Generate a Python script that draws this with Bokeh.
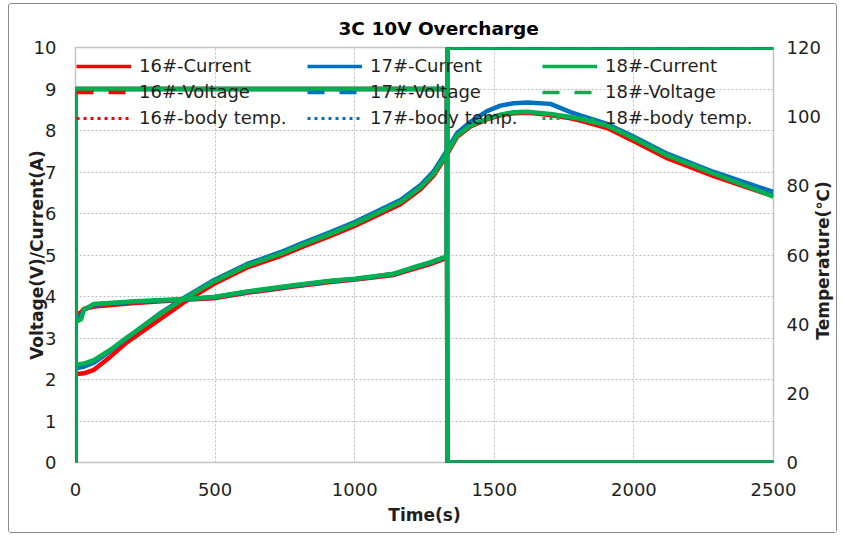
from math import pi

from bokeh.embed import file_html
from bokeh.models import FixedTicker, Label, Legend, LegendItem, LinearAxis, Range1d
from bokeh.plotting import figure
from bokeh.resources import INLINE

# ---- data -------------------------------------------------------------
cells = ["16#", "17#", "18#"]
colors = ["#FF0000", "#0070C0", "#00B050"]

# charge current (A): 3C step at t=0, drops to zero when the cells open
t_current = [0, 1, 1330, 1332, 2500]
current_16 = [0, 9, 9, 0, 0]
current_17 = [0, 9, 9, 0, 0]
current_18 = [0, 9, 9, 0, 0]

# cell voltage (V); jumps to the 10 V charger limit after cut-off
t_voltage = [3, 20, 30, 66, 200, 388, 495, 615, 782, 913, 1003, 1140, 1200, 1270, 1330, 1332, 2500]
voltage_16 = [3.55, 3.62, 3.70, 3.76, 3.84, 3.92, 3.96, 4.09, 4.24, 4.35, 4.41, 4.52, 4.64, 4.78, 4.93, 10, 10]
voltage_17 = [3.45, 3.55, 3.68, 3.80, 3.87, 3.93, 3.98, 4.11, 4.26, 4.37, 4.42, 4.54, 4.67, 4.81, 4.96, 10, 10]
voltage_18 = [3.40, 3.45, 3.68, 3.82, 3.88, 3.94, 3.99, 4.12, 4.27, 4.38, 4.43, 4.55, 4.68, 4.82, 4.97, 10, 10]

# body temperature (°C)
t_temp = [5, 30, 66, 125, 185, 304, 388, 495, 615, 734, 806, 913, 1000, 1164, 1236, 1283, 1325,
          1367, 1415, 1474, 1522, 1570, 1620, 1701, 1773, 1808, 1904, 2002, 2119, 2286, 2500]
temp_16 = [25.6, 25.8, 26.8, 30.6, 34.8, 41.5, 46.3, 51.6, 56.4, 59.7, 62.1, 65.5, 68.4, 74.7, 79.0, 83.0, 88.3,
           94.2, 97.2, 99.2, 100.4, 101.0, 101.1, 100.5, 99.5, 98.9, 96.7, 92.8, 88.0, 82.8, 77.0]
temp_17 = [27.3, 27.7, 28.9, 32.3, 36.0, 43.2, 47.6, 52.7, 57.4, 60.8, 63.2, 66.6, 69.5, 75.9, 80.2, 84.2, 89.5,
           95.3, 98.5, 101.6, 103.2, 103.9, 104.1, 103.7, 101.3, 100.4, 97.9, 94.1, 89.3, 84.0, 78.2]
temp_18 = [28.3, 28.6, 29.6, 32.6, 36.2, 43.0, 47.3, 52.3, 57.0, 60.3, 62.7, 66.1, 69.0, 75.3, 79.6, 83.5, 88.8,
           94.6, 97.4, 99.4, 100.6, 101.3, 101.4, 100.8, 99.9, 99.4, 97.4, 93.6, 88.8, 83.5, 76.9]

x_ticks = [0, 500, 1000, 1500, 2000, 2500]
y_ticks = list(range(0, 11))
temp_ticks = list(range(0, 121, 20))

currents = [current_16, current_17, current_18]
voltages = [voltage_16, voltage_17, voltage_18]
temps = [temp_16, temp_17, temp_18]

FONT = "DejaVu Sans"
TEXT = "#1f1f1f"

# ---- figure -----------------------------------------------------------
p = figure(
    frame_width=698, frame_height=415,
    x_range=Range1d(0, 2500), y_range=Range1d(0, 10),
    min_border_left=66, min_border_right=63, min_border_top=43, min_border_bottom=70,
    output_backend="svg", toolbar_location=None,
    title="3C 10V Overcharge",
    margin=(3, 0, 0, 8),
    styles={"border": "1px solid #8c8c8c", "border-radius": "3px"},
)
p.extra_y_ranges = {"temp": Range1d(0, 120)}

p.title.align = "left"
p.title.offset = 263
p.title.text_font = FONT
p.title.text_font_size = "18.5px"
p.title.text_font_style = "bold"
p.title.text_color = "#000000"
p.title.standoff = 18

p.outline_line_color = "#c4c4c4"
p.outline_line_width = 1.5
p.background_fill_color = "white"
p.border_fill_color = "white"

p.xgrid.ticker = FixedTicker(ticks=[500, 1000, 1500, 2000])
p.ygrid.ticker = FixedTicker(ticks=list(range(1, 10)))
for g in (p.xgrid, p.ygrid):
    g.grid_line_color = "#bdbdbd"
    g.grid_line_dash = "2 2"
    g.grid_line_width = 1

temp_axis = LinearAxis(y_range_name="temp")
p.add_layout(temp_axis, "right")

p.xaxis.ticker = FixedTicker(ticks=x_ticks)
p.yaxis[0].ticker = FixedTicker(ticks=y_ticks)
temp_axis.ticker = FixedTicker(ticks=temp_ticks)

p.xaxis.axis_label = "Time(s)"
p.yaxis[0].axis_label = "Voltage(V)/Current(A)"

for ax in (p.xaxis[0], p.yaxis[0], temp_axis):
    ax.axis_line_color = None
    ax.major_tick_line_color = None
    ax.minor_tick_line_color = None
    ax.major_label_text_font = FONT
    ax.major_label_text_font_size = "18px"
    ax.major_label_text_color = TEXT
    ax.axis_label_text_font = FONT
    ax.axis_label_text_font_size = "17px"
    ax.axis_label_text_font_style = "bold"
    ax.axis_label_text_color = TEXT

p.xaxis.major_label_standoff = 14
p.yaxis[0].major_label_standoff = 13
temp_axis.major_label_standoff = 7
p.xaxis.axis_label_standoff = 6
p.yaxis[0].axis_label_standoff = -16

# ---- series -----------------------------------------------------------
# styled copies of each series first (they give the legend its swatches and
# sit fully underneath the solid traces drawn afterwards)
swatches = {}
for cell, color, cur, volt, temp in zip(cells, colors, currents, voltages, temps):
    swatches[(cell, "Current")] = p.line(t_current, cur, line_color=color, line_width=3.5)
    swatches[(cell, "Voltage")] = p.line(t_voltage, volt, line_color=color, line_width=3.5,
                                         line_dash="17 15")
    swatches[(cell, "body temp.")] = p.line(t_temp, temp, line_color=color, line_width=3,
                                            line_dash="3 4", y_range_name="temp")

for color, cur, volt, temp in zip(colors, currents, voltages, temps):
    p.line(t_current, cur, line_color=color, line_width=4.5)
    p.line(t_voltage, volt, line_color=color, line_width=4.5)
    p.line(t_temp, temp, line_color=color, line_width=4.5, y_range_name="temp")

# ---- legend: one column per cell ------------------------------------
col_x = [1, 232, 467]
for cell, lx in zip(cells, col_x):
    items = [LegendItem(label=f"{cell}-{name}", renderers=[swatches[(cell, name)]])
             for name in ("Current", "Voltage", "body temp.")]
    leg = Legend(
        items=items, location=(lx, 334), orientation="vertical",
        glyph_width=55, glyph_height=20, label_height=20, label_standoff=8,
        spacing=5, padding=0, margin=0,
        border_line_color=None, background_fill_alpha=0,
        label_text_font=FONT, label_text_font_size="18px", label_text_color=TEXT,
    )
    p.add_layout(leg)

# ---- temperature axis title, reading bottom-to-top ---------------------
q = figure(
    width=24, height=220, x_range=Range1d(0, 1), y_range=Range1d(0, 1),
    x_axis_type=None, y_axis_type=None, min_border=0,
    output_backend="svg", toolbar_location=None,
    outline_line_color=None, background_fill_alpha=0, border_fill_alpha=0,
    styles={"position": "absolute", "left": "810px", "top": "150px"},
)
q.grid.visible = False
q.add_layout(Label(
    x=0.5, y=0.5, text="Temperature(℃)", angle=pi / 2,
    text_align="center", text_baseline="middle", text_font=FONT,
    text_font_size="17px", text_font_style="bold", text_color=TEXT,
))

open("out.html", "w").write(file_html([p, q], INLINE))
